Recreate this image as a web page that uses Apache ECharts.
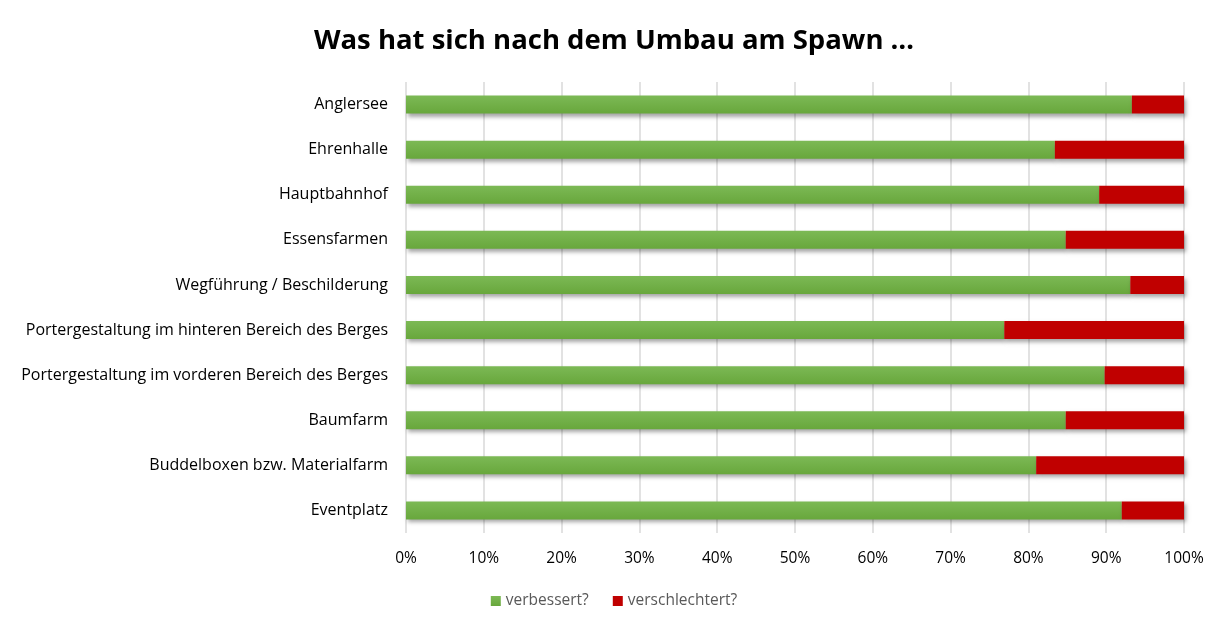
<!DOCTYPE html>
<html><head><meta charset="utf-8">
<script src="https://cdn.jsdelivr.net/npm/echarts@6/dist/echarts.min.js"></script>
<style>html,body{margin:0;padding:0;background:#fff}#c{width:1228px;height:629px}</style>
</head><body><div id="c"></div>
<script>
const categories = ["Anglersee","Ehrenhalle","Hauptbahnhof","Essensfarmen","Wegführung / Beschilderung","Portergestaltung im hinteren Bereich des Berges","Portergestaltung im vorderen Bereich des Berges","Baumfarm","Buddelboxen bzw. Materialfarm","Eventplatz"];
const verbessert = [93.3, 83.4, 89.1, 84.8, 93.1, 76.9, 89.8, 84.8, 81.0, 92.0];
const verschlechtert = [6.7, 16.6, 10.9, 15.2, 6.9, 23.1, 10.2, 15.2, 19.0, 8.0];
const xTicks = [0,10,20,30,40,50,60,70,80,90,100];

const font = "'Open Sans', 'Noto Sans', sans-serif";
const chart = echarts.init(document.getElementById('c'), null, {renderer:'canvas'});
const shadow = {shadowColor:'rgba(0,0,0,0.35)', shadowBlur:4, shadowOffsetX:2, shadowOffsetY:3};
chart.setOption({
  animation:false,
  backgroundColor:'#fff',
  title:{text:'Was hat sich nach dem Umbau am Spawn …', left:'center', top:22,
    textStyle:{fontFamily:font, fontSize:27.5, fontWeight:'bold', color:'#000'}},
  legend:{bottom:15, left:'center', itemWidth:10, itemHeight:10, itemGap:24, icon:'rect',
    textStyle:{fontFamily:font, fontSize:15.5, color:'#595959'},
    data:['verbessert?','verschlechtert?']},
  grid:{left:406, right:44, top:82, bottom:96, containLabel:false},
  xAxis:{type:'value', min:0, max:100, interval:10,
    axisLabel:{formatter:v=>v+'%', fontFamily:font, fontSize:15.5, color:'#000', margin:18},
    axisLine:{show:false}, axisTick:{show:false},
    splitLine:{show:true, lineStyle:{color:'#d9d9d9', width:1.5}}},
  yAxis:{type:'category', inverse:true, data:categories,
    axisLabel:{fontFamily:font, fontSize:16, color:'#000', margin:18},
    axisLine:{show:false}, axisTick:{show:false}},
  series:[
    {name:'verbessert?', type:'bar', stack:'s', data:verbessert, barWidth:'40%',
      itemStyle:Object.assign({color:new echarts.graphic.LinearGradient(0,0,0,1,[{offset:0,color:'#7cb955'},{offset:1,color:'#68a73c'}])}, shadow)},
    {name:'verschlechtert?', type:'bar', stack:'s', data:verschlechtert, barWidth:'40%',
      itemStyle:Object.assign({color:'#c00000'}, shadow)}
  ]
});
</script></body></html>
